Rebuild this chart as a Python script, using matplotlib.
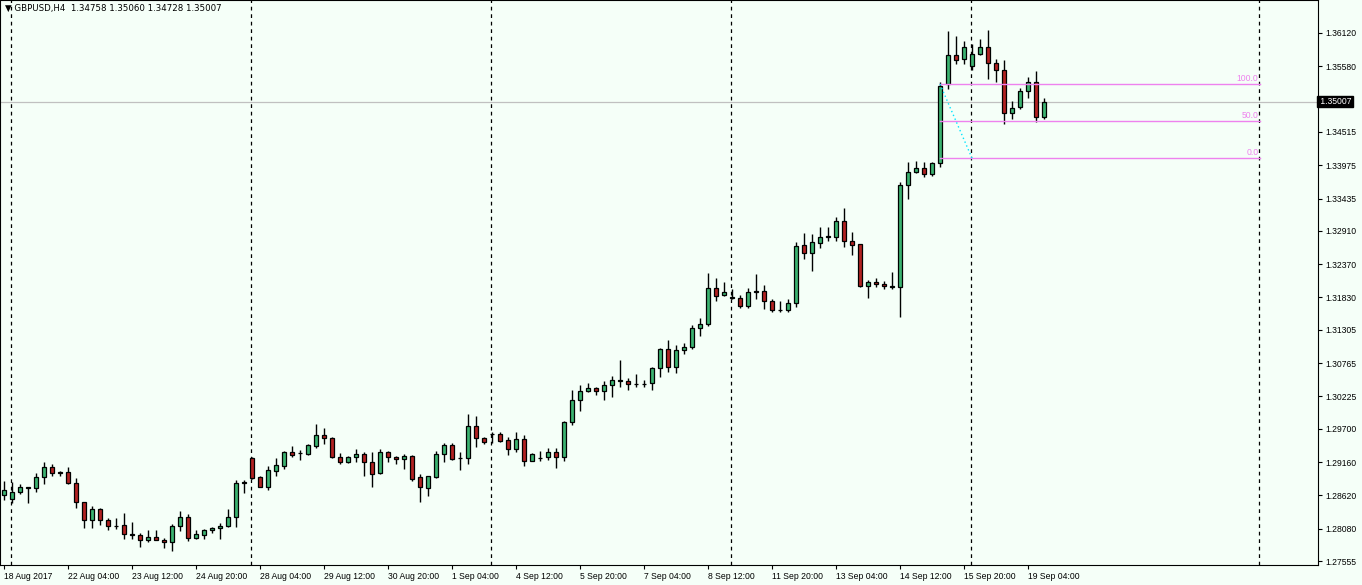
import matplotlib
matplotlib.use("Agg")
import matplotlib.pyplot as plt
import numpy as np

opens = [1.2863,1.2856,1.2867,1.2874,1.2874,1.2892,1.2908,1.2900,1.2900,1.2882,
         1.2851,1.2822,1.2840,1.2822,1.2812,1.2814,1.2799,1.2798,1.2790,1.2794,
         1.2790,1.2786,1.2812,1.2827,1.2793,1.2798,1.2806,1.2809,1.2812,1.2827,
         1.2882,1.2923,1.2892,1.2876,1.2902,1.2910,1.2932,1.2931,1.2929,1.2942,
         1.2960,1.2955,1.2924,1.2916,1.2924,1.2929,1.2916,1.2898,1.2932,1.2924,
         1.2921,1.2926,1.2892,1.2874,1.2892,1.2929,1.2944,1.2923,1.2923,1.2975,
         1.2955,1.2962,1.2962,1.2952,1.2937,1.2953,1.2918,1.2922,1.2924,1.2932,
         1.2924,1.2981,1.3017,1.3031,1.3036,1.3031,1.3041,1.3048,1.3048,1.3043,
         1.3042,1.3044,1.3069,1.3100,1.3070,1.3098,1.3103,1.3134,1.3140,1.3198,
         1.3187,1.3182,1.3182,1.3169,1.3192,1.3194,1.3177,1.3163,1.3163,1.3174,
         1.3268,1.3255,1.3271,1.3281,1.3281,1.3307,1.3275,1.3269,1.3202,1.3208,
         1.3205,1.3200,1.3200,1.3365,1.3386,1.3393,1.3383,1.3401,1.3529,1.3576,
         1.3570,1.3559,1.3578,1.3589,1.3563,1.3552,1.3482,1.3492,1.3518,1.3533,
         1.34758]
highs = [1.2885,1.2884,1.2880,1.2876,1.2898,1.2916,1.2913,1.2902,1.2908,1.2890,
         1.2852,1.2845,1.2841,1.2825,1.2825,1.2833,1.2819,1.2801,1.2806,1.2806,
         1.2793,1.2816,1.2837,1.2832,1.2806,1.2807,1.2811,1.2817,1.2840,1.2887,
         1.2887,1.2924,1.2893,1.2910,1.2923,1.2934,1.2942,1.2936,1.2945,1.2978,
         1.2971,1.2956,1.2931,1.2926,1.2937,1.2932,1.2932,1.2937,1.2934,1.2926,
         1.2929,1.2927,1.2897,1.2894,1.2934,1.2947,1.2947,1.2932,1.2994,1.2991,
         1.2957,1.2965,1.2965,1.2957,1.2965,1.2960,1.2931,1.2934,1.2939,1.2939,
         1.2982,1.3033,1.3041,1.3044,1.3038,1.3048,1.3056,1.3082,1.3053,1.3059,
         1.3049,1.3070,1.3101,1.3114,1.3106,1.3109,1.3138,1.3150,1.3223,1.3215,
         1.3208,1.3197,1.3187,1.3198,1.3221,1.3203,1.3181,1.3177,1.3181,1.3273,
         1.3288,1.3286,1.3297,1.3297,1.3314,1.3328,1.3289,1.3270,1.3211,1.3215,
         1.3210,1.3224,1.3370,1.3403,1.3404,1.3403,1.3403,1.3533,1.3615,1.3607,
         1.3599,1.3594,1.3602,1.3617,1.3570,1.3568,1.3502,1.3523,1.3541,1.3550,
         1.35060]
lows = [1.2854,1.2850,1.2864,1.2850,1.2867,1.2880,1.2893,1.2893,1.2880,1.2842,
        1.2809,1.2809,1.2814,1.2806,1.2807,1.2791,1.2791,1.2778,1.2786,1.2789,
        1.2777,1.2772,1.2804,1.2788,1.2791,1.2791,1.2801,1.2791,1.2811,1.2811,
        1.2866,1.2889,1.2875,1.2871,1.2893,1.2905,1.2924,1.2919,1.2928,1.2939,
        1.2945,1.2923,1.2913,1.2914,1.2916,1.2893,1.2876,1.2897,1.2916,1.2913,
        1.2905,1.2885,1.2851,1.2861,1.2890,1.2916,1.2919,1.2903,1.2913,1.2940,
        1.2945,1.2947,1.2949,1.2928,1.2932,1.2910,1.2917,1.2918,1.2919,1.2906,
        1.2918,1.2976,1.2999,1.3030,1.3025,1.3017,1.3022,1.3038,1.3033,1.3038,
        1.3038,1.3033,1.3054,1.3062,1.3060,1.3092,1.3100,1.3121,1.3137,1.3177,
        1.3186,1.3181,1.3166,1.3166,1.3181,1.3164,1.3160,1.3160,1.3160,1.3168,
        1.3245,1.3226,1.3263,1.3275,1.3275,1.3265,1.3252,1.3200,1.3182,1.3200,
        1.3197,1.3197,1.3151,1.3343,1.3385,1.3378,1.3380,1.3395,1.3521,1.3562,
        1.3562,1.3552,1.3576,1.3537,1.3533,1.3464,1.3473,1.3489,1.3507,1.3468,
        1.34728]
closes = [1.2871,1.2867,1.2876,1.2875,1.2892,1.2908,1.2898,1.2899,1.2882,1.2851,
          1.2822,1.2840,1.2822,1.2812,1.2813,1.2799,1.2798,1.2790,1.2794,1.2790,
          1.2786,1.2812,1.2827,1.2793,1.2799,1.2806,1.2809,1.2812,1.2827,1.2882,
          1.2883,1.2890,1.2876,1.2903,1.2911,1.2932,1.2928,1.2930,1.2944,1.2960,
          1.2955,1.2924,1.2916,1.2924,1.2929,1.2916,1.2897,1.2932,1.2924,1.2921,
          1.2926,1.2889,1.2876,1.2893,1.2929,1.2944,1.2921,1.2922,1.2975,1.2955,
          1.2949,1.2961,1.2950,1.2937,1.2953,1.2918,1.2929,1.2923,1.2932,1.2924,
          1.2981,1.3017,1.3031,1.3036,1.3031,1.3041,1.3049,1.3049,1.3043,1.3042,
          1.3043,1.3069,1.3100,1.3070,1.3098,1.3103,1.3134,1.3140,1.3198,1.3185,
          1.3192,1.3183,1.3169,1.3192,1.3193,1.3177,1.3163,1.3162,1.3174,1.3266,
          1.3255,1.3273,1.3281,1.3282,1.3307,1.3275,1.3268,1.3202,1.3208,1.3205,
          1.3202,1.3201,1.3365,1.3386,1.3393,1.3383,1.3401,1.3526,1.3576,1.3568,
          1.3589,1.3578,1.3589,1.3563,1.3552,1.3482,1.3490,1.3518,1.3533,1.3476,
          1.35007]

tick_pos = [0,8,16,24,32,40,48,56,64,72,80,88,96,104,112,120,128]
tick_labels = ["18 Aug 2017","22 Aug 04:00","23 Aug 12:00","24 Aug 20:00","28 Aug 04:00",
               "29 Aug 12:00","30 Aug 20:00","1 Sep 04:00","4 Sep 12:00","5 Sep 20:00",
               "7 Sep 04:00","8 Sep 12:00","11 Sep 20:00","13 Sep 04:00","14 Sep 12:00",
               "15 Sep 20:00","19 Sep 04:00"]
price_ticks = [1.36120,1.35580,1.34515,1.33975,1.33435,1.32910,1.32370,1.31830,
               1.31305,1.30765,1.30225,1.29700,1.29160,1.28620,1.28080,1.27555]
separators = [1,31,61,91,121,157]
fibo_start, fibo_end = 117, 157
fibo_hi, fibo_lo = 1.3529, 1.3409
fibo_levels = [("100.0",1.0),("50.0",0.5),("0.0",0.0)]
last_price = 1.35007

plt.rcParams['font.family'] = ['Liberation Sans', 'DejaVu Sans']
FS = 6.2
bg = "#F5FFF8"
fig = plt.figure(figsize=(13.62,5.85), dpi=100, facecolor=bg)
ax = fig.add_axes([0.0, 20/585, 1318/1362, 565/585], facecolor=bg)

o = np.array(opens); h = np.array(highs); l = np.array(lows); c = np.array(closes)
x = np.arange(len(o))
up = c >= o
ax.vlines(x, l, h, color="black", lw=1, zorder=2)
bot = np.minimum(o, c); hgt = np.maximum(np.abs(c - o), 0.00003)
ax.bar(x[up], hgt[up], bottom=bot[up], width=0.62, color="#3CB371", edgecolor="black", lw=0.9, zorder=3)
ax.bar(x[~up], hgt[~up], bottom=bot[~up], width=0.62, color="#B22222", edgecolor="black", lw=0.9, zorder=3)

for s in separators:
    ax.axvline(s - 0.1, color="black", ls=(0,(3,3)), lw=0.9, zorder=1)
ax.axhline(last_price, color="#C0C0C0", lw=0.9, zorder=1)

rng = fibo_hi - fibo_lo
for lab, f in fibo_levels:
    yv = fibo_lo + f * rng
    ax.plot([fibo_start, fibo_end], [yv, yv], color="#EE82EE", lw=1, zorder=4)
    ax.text(fibo_end - 0.2, yv + 0.00012, lab, color="#EE82EE", fontsize=FS, ha="right", va="bottom")
ax.plot([fibo_start, fibo_start + 4], [fibo_hi, fibo_lo], color="#00E5FF", lw=1, ls=(0,(1,2)), zorder=4)

ax.set_xlim(-0.5, 164.25)
ax.set_ylim(1.36655 - 0.0001622*565, 1.36655)
ax.yaxis.tick_right()
ax.set_yticks(price_ticks)
ax.set_yticklabels([f"{p:.5f}" for p in price_ticks], fontsize=FS)
ax.set_xticks(tick_pos)
ax.set_xticklabels(tick_labels, fontsize=FS, ha="left")
ax.tick_params(axis="x", length=3, pad=2)
ax.tick_params(axis="y", length=3, pad=2)
for sp in ax.spines.values():
    sp.set_color("black"); sp.set_linewidth(0.8)

ax.text(1.0, last_price, f" {last_price:.5f}", transform=ax.get_yaxis_transform(), fontsize=FS,
        color="white", va="center", ha="left",
        bbox=dict(boxstyle="square,pad=0.15", fc="black", ec="black"))
ax.text(0.004, 0.993, "\u25bc GBPUSD,H4  1.34758 1.35060 1.34728 1.35007", transform=ax.transAxes,
        fontsize=FS, va="top", ha="left", family=['DejaVu Sans'])

fig.savefig("out.png", dpi=100, facecolor=bg)
